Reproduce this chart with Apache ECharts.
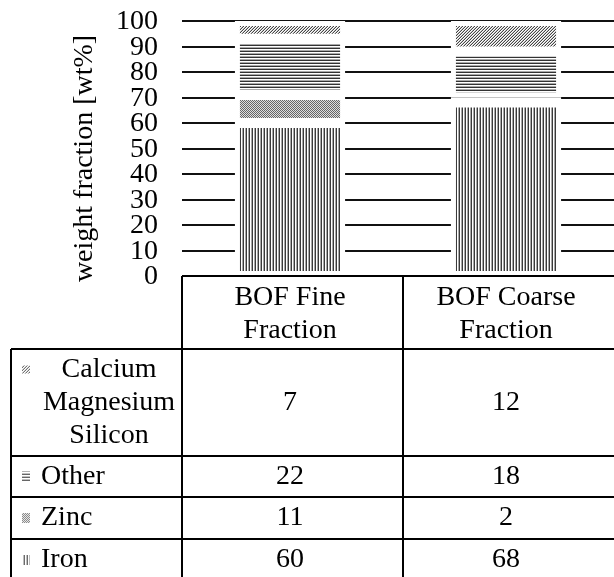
<!DOCTYPE html>
<html><head><meta charset="utf-8">
<script src="https://cdn.jsdelivr.net/npm/echarts@6/dist/echarts.min.js"></script>
<style>html,body{margin:0;padding:0;background:#fff}#c{width:614px;height:577px}</style>
</head><body><div id="c"></div>
<script>
// ---- data ----
const categories = ['BOF Fine\nFraction', 'BOF Coarse\nFraction'];
const iron  = [60, 68];
const zinc  = [11, 2];
const other = [22, 18];
const cms   = [7, 12];
const yTickLabels = [0, 10, 20, 30, 40, 50, 60, 70, 80, 90, 100];
const yAxisName = 'weight fraction [wt%]';
// table rows, top to bottom
const rowLabels = ['Calcium\nMagnesium\nSilicon', 'Other', 'Zinc', 'Iron'];
const rowValues = [cms, other, zinc, iron];

// ---- styling helpers ----
const FONT = 'Liberation Serif';
function makePattern(w, h, fn) {
  const c = document.createElement('canvas');
  c.width = w; c.height = h;
  const ctx = c.getContext('2d');
  ctx.fillStyle = '#fff'; ctx.fillRect(0, 0, w, h);
  for (let x = 0; x < w; x++) for (let y = 0; y < h; y++) {
    const col = fn(x, y);
    if (col) { ctx.fillStyle = col; ctx.fillRect(x, y, 1, 1); }
  }
  return { image: c, repeat: 'repeat' };
}
const patIron  = makePattern(3, 1, (x) => x === 0 ? '#3a3a3a' : (x === 2 ? '#a8a8a8' : null));
const patOther = makePattern(1, 3, (x, y) => y === 0 ? '#333' : (y === 2 ? '#aaa' : null));
const patZinc  = makePattern(2, 2, (x, y) => (x + y) % 2 === 0 ? '#666' : '#dedede');
const patCms   = makePattern(3, 3, (x, y) => (x + y) % 3 === 2 ? '#444' : ((x + y) % 3 === 1 ? '#c4c4c4' : null));
const rowPatterns = [patCms, patOther, patZinc, patIron];

const chart = echarts.init(document.getElementById('c'), null, { renderer: 'canvas' });

function barSeries(name, data, pat) {
  return {
    name, type: 'bar', stack: 'total', data, barWidth: '51%', silent: true,
    itemStyle: { color: pat, borderColor: '#fff', borderWidth: 5 },
    emphasis: { disabled: true }
  };
}

chart.setOption({
  animation: false,
  backgroundColor: '#fff',
  grid: { left: 182, top: 21, width: 442, height: 255 },
  xAxis: {
    type: 'category', data: categories,
    axisLine: { show: false }, axisTick: { show: false },
    axisLabel: { fontFamily: FONT, fontSize: 28, lineHeight: 33, color: '#000', margin: 5, interval: 0 }
  },
  yAxis: {
    type: 'value', min: 0, max: 100, interval: 10,
    name: yAxisName, nameLocation: 'middle', nameRotate: 90, nameGap: 83,
    nameTextStyle: { fontFamily: FONT, fontSize: 28, color: '#000', padding: [0, 20, 0, 0] },
    axisLine: { show: false }, axisTick: { show: false },
    axisLabel: { show: false },
    splitLine: { show: true, lineStyle: { color: '#111', width: 2 } }
  },
  series: [
    barSeries('Iron', iron, patIron),
    barSeries('Zinc', zinc, patZinc),
    barSeries('Other', other, patOther),
    barSeries('Calcium Magnesium Silicon', cms, patCms)
  ]
});

const g = [];
// y tick labels placed through the y axis scale (tightly packed labels, no overlap hiding)
yTickLabels.forEach(v => {
  g.push({
    type: 'text', z: 100, silent: true,
    style: { text: String(v), x: 158, y: chart.convertToPixel({ yAxisIndex: 0 }, v) + 1,
      align: 'right', verticalAlign: 'middle', font: '28px "' + FONT + '"', fill: '#000' }
  });
});

// ---- data table below the plot ----
const tableTop = 276, headBottom = 349;
const rowBounds = [349, 456, 497, 539, 581];
const tableLeft = 11, colLine1 = 182, colLine2 = 403, tableRight = 624;
const colX = categories.map((c, i) => chart.convertToPixel({ xAxisIndex: 0 }, i));
const lineStyle = { stroke: '#000', lineWidth: 2 };
function hline(y, x1, x2) { g.push({ type: 'line', z: 100, shape: { x1, y1: y, x2, y2: y }, style: lineStyle, silent: true }); }
function vline(x, y1, y2) { g.push({ type: 'line', z: 100, shape: { x1: x, y1, x2: x, y2 }, style: lineStyle, silent: true }); }
hline(tableTop, colLine1, tableRight);
rowBounds.slice(0, 4).forEach(y => hline(y, tableLeft, tableRight));
vline(tableLeft, headBottom, 577);
vline(colLine1, tableTop, 577);
vline(colLine2, tableTop, 577);

rowLabels.forEach((lab, r) => {
  const cy = (rowBounds[r] + rowBounds[r + 1]) / 2;
  const multi = lab.indexOf('\n') >= 0;
  g.push({
    type: 'text', z: 100, silent: true,
    style: {
      text: lab, x: multi ? 109 : 41, y: cy,
      align: multi ? 'center' : 'left', verticalAlign: 'middle',
      font: '28px "' + FONT + '"', lineHeight: 33, fill: '#000'
    }
  });
  const iy = multi ? cy - 37 : cy - 5;
  g.push({ type: 'rect', z: 100, silent: true, shape: { x: 22, y: iy, width: 8, height: multi ? 8 : 10 },
    style: { fill: rowPatterns[r], opacity: 0.75 } });
  rowValues[r].forEach((v, c) => {
    g.push({
      type: 'text', z: 100, silent: true,
      style: { text: String(v), x: colX[c], y: cy, align: 'center', verticalAlign: 'middle',
        font: '28px "' + FONT + '"', fill: '#000' }
    });
  });
});
chart.setOption({ graphic: g });
</script>
</body></html>
